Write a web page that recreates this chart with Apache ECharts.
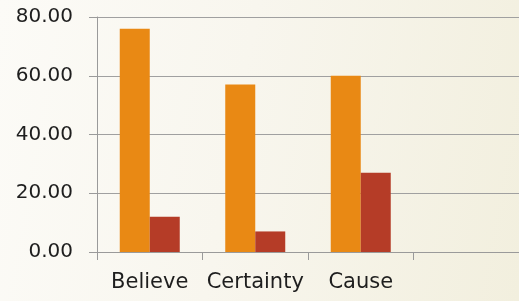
<!DOCTYPE html>
<html>
<head>
<meta charset="utf-8">
<script src="https://cdn.jsdelivr.net/npm/echarts@6/dist/echarts.min.js"></script>
<style>
  html, body { margin: 0; padding: 0; }
  body { background: linear-gradient(100deg, #fcfbf7 0%, #f8f6ee 45%, #f2efde 100%); }
  #chart { width: 519px; height: 301px; }
</style>
</head>
<body>
<div id="chart"></div>
<script>
var categories = ['Believe', 'Certainty', 'Cause', ''];
var seriesA = [76, 57, 60, null];
var seriesB = [12, 7, 27, null];
var yTicks = [0, 20, 40, 60, 80];

var chart = echarts.init(document.getElementById('chart'));
var font = "'DejaVu Sans', sans-serif";

var option = {
    animation: false,
    backgroundColor: 'transparent',
    grid: {
        left: 97,
        right: -7,
        top: 17,
        bottom: 49
    },
    xAxis: {
        type: 'category',
        data: categories,
        axisLine: { lineStyle: { color: '#9a9a9a', width: 1 } },
        axisTick: { show: true, interval: 0, length: 8, lineStyle: { color: '#9a9a9a' } },
        axisLabel: {
            interval: 0,
            color: '#1e1e1e',
            fontSize: 21,
            fontFamily: font,
            margin: 20
        }
    },
    yAxis: {
        type: 'value',
        min: yTicks[0],
        max: yTicks[yTicks.length - 1],
        interval: 20,
        axisLine: { show: true, lineStyle: { color: '#9a9a9a', width: 1 } },
        axisTick: { show: true, length: 8, lineStyle: { color: '#9a9a9a' } },
        splitLine: { lineStyle: { color: '#a0a0a0', width: 1 } },
        axisLabel: {
            color: '#1e1e1e',
            fontSize: 20,
            fontFamily: font,
            margin: 24,
            formatter: function (v) { return v.toFixed(2); }
        }
    },
    series: [{
        name: 'A',
        type: 'bar',
        data: seriesA,
        barWidth: 30,
        barGap: '0%',
        itemStyle: { color: '#e98914' }
    }, {
        name: 'B',
        type: 'bar',
        data: seriesB,
        barWidth: 30,
        itemStyle: { color: '#b53c27' }
    }]
};

chart.setOption(option);
</script>
</body>
</html>
